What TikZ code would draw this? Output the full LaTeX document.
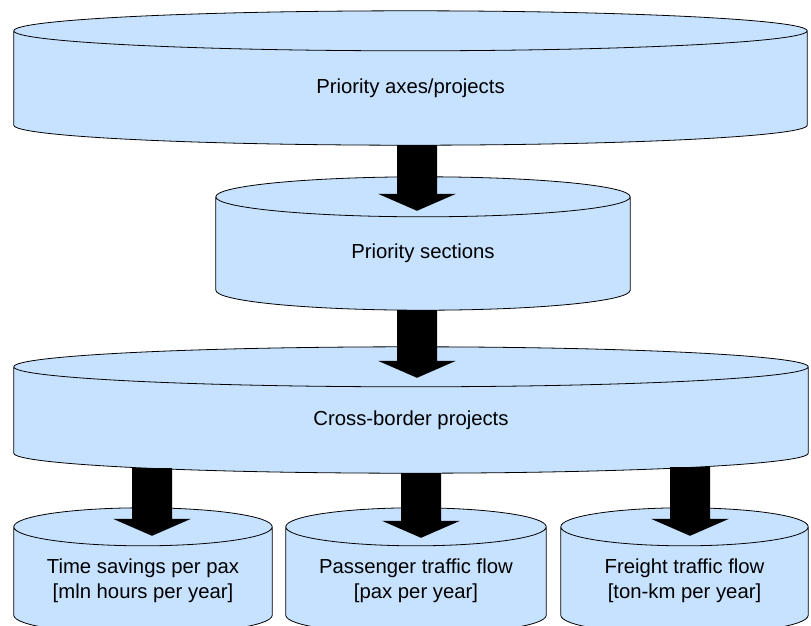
\documentclass[tikz,border=0pt]{standalone}
\usepackage{fontspec}
\setmainfont{Liberation Sans}
\usetikzlibrary{calc,backgrounds}
\definecolor{canblue}{RGB}{198,226,255}

\tikzset{
  can/.style={rectangle, inner sep=0pt, align=center, font=\fontsize{20.3}{25}\selectfont},
  canline/.style={draw=black, line width=0.8pt, fill=canblue, line join=round},
}
% cylinder round a node: node = front face, #2 = half height of the ends
\newcommand{\drawcan}[2]{%
  \begin{pgfonlayer}{background}
  \filldraw[canline] let \p1=(#1.south west), \p2=(#1.south east), \n1={(\x2-\x1)/2} in
    ([yshift=#2]#1.north west) -- (#1.south west)
    arc[start angle=180, end angle=360, x radius=\n1, y radius=#2]
    -- ([yshift=#2]#1.north east)
    arc[start angle=0, end angle=180, x radius=\n1, y radius=#2] -- cycle
    ([yshift=#2]#1.north west)
    arc[start angle=180, end angle=360, x radius=\n1, y radius=#2];
  \end{pgfonlayer}}
% block arrow from #1 down to #2
\newcommand{\bigarrow}[2]{%
  \fill let \p1=(#1), \p2=(#2) in
    (\x1-20pt,\y1) -- (\x1-20pt,\y2+17pt) -- (\x1-39pt,\y2+17pt) -- (\x1,\y2)
    -- (\x1+39pt,\y2+17pt) -- (\x1+20pt,\y2+17pt) -- (\x1+20pt,\y1) -- cycle;}

\begin{document}
\begin{tikzpicture}[x=1pt,y=1pt]
  \useasboundingbox (0,0) rectangle (811,-625);

  \node[can, minimum width=793pt, minimum height=74pt] (axes) at (410.5,-88) {Priority axes/projects};
  \node[can, minimum width=414pt, minimum height=73pt] (sections) at (423,-253.5) {Priority sections};
  \node[can, minimum width=794pt, minimum height=66pt] (cross) at (411,-420) {Cross-border projects};
  \node[can, minimum width=258pt, minimum height=69pt] (time) at (143,-580.5) {Time savings per pax\\{}[mln hours per year]};
  \node[can, minimum width=260pt, minimum height=69pt] (pax) at (416,-580.5) {Passenger traffic flow\\{}[pax per year]};
  \node[can, minimum width=247pt, minimum height=69pt] (freight) at (684.5,-580.5) {Freight traffic flow\\{}[ton-km per year]};

  \drawcan{axes}{20pt}
  \drawcan{sections}{20pt}
  \drawcan{cross}{20pt}
  \drawcan{time}{19pt}
  \drawcan{pax}{19pt}
  \drawcan{freight}{19pt}

  \coordinate (f1) at (417,-145);
  \coordinate (f2) at (417,-310);
  \coordinate (f3) at (152,-468);
  \coordinate (f4) at (421,-473);
  \coordinate (f5) at (690,-467);

  \bigarrow{f1}{[yshift=6pt]sections.north}
  \bigarrow{f2}{[yshift=9pt]cross.north}
  \bigarrow{f3}{[yshift=10pt]time.north}
  \bigarrow{f4}{[yshift=8pt]pax.north}
  \bigarrow{f5}{[yshift=10pt]freight.north}
\end{tikzpicture}
\end{document}
